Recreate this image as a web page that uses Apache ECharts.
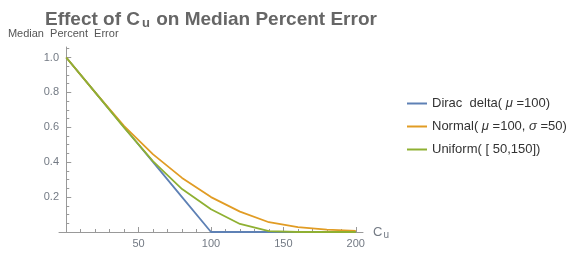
<!DOCTYPE html>
<html>
<head>
<meta charset="utf-8">
<script src="https://cdn.jsdelivr.net/npm/echarts@6/dist/echarts.min.js"></script>
<style>
  html, body { margin: 0; padding: 0; background: #fff; }
  #chart { width: 577px; height: 254px; }
</style>
</head>
<body>
<div id="chart"></div>
<script>
// data
const cuValues = [0, 20, 40, 60, 80, 100, 120, 140, 160, 180, 200]
const diracDelta = [1, 0.8, 0.6, 0.4, 0.2, 0, 0, 0, 0, 0, 0]
const normalDist = [1, 0.8, 0.607, 0.445, 0.31, 0.2, 0.117, 0.056, 0.028, 0.014, 0.006]
const uniformDist = [1, 0.8, 0.598, 0.405, 0.246, 0.13, 0.046, 0.005, 0, 0, 0]

const xLabels = [50, 100, 150, 200]
const xMinor = [10, 20, 30, 40, 60, 70, 80, 90, 110, 120, 130, 140, 160, 170, 180, 190]
const yLabels = [0.2, 0.4, 0.6, 0.8, 1.0]
const yMinor = [0.05, 0.1, 0.15, 0.25, 0.3, 0.35, 0.45, 0.5, 0.55, 0.65, 0.7, 0.75, 0.85, 0.9, 0.95, 1.05]

const seriesNames = ['Dirac delta', 'Normal', 'Uniform']
const colors = ['#5e81b5', '#e19c24', '#8fb032']

const pairs = ys => cuValues.map((x, i) => [x, ys[i]])

const chart = echarts.init(document.getElementById('chart'))

const axisGray = '#999'
const labelGray = '#737a84'

const option = {
  animation: false,
  title: {
    text: 'Effect of C{sub|u} on Median Percent Error',
    left: 40,
    top: 4,
    textStyle: {
      fontFamily: 'Liberation Sans',
      fontSize: 19,
      fontWeight: 'bold',
      color: '#666',
      rich: {
        sub: { fontFamily: 'Liberation Sans', fontSize: 13, fontWeight: 'bold', color: '#666', padding: [8, 1, 0, 2] }
      }
    }
  },
  legend: {
    orient: 'vertical',
    left: 402,
    top: 92,
    icon: 'rect',
    itemWidth: 20,
    itemHeight: 2,
    itemGap: 10,
    data: seriesNames,
    formatter: function (name) {
      if (name === 'Dirac delta') return 'Dirac  delta( {i|μ} =100)'
      if (name === 'Normal') return 'Normal( {i|μ} =100, {i|σ} =50)'
      return 'Uniform( [ 50,150])'
    },
    textStyle: {
      fontFamily: 'Liberation Sans',
      fontSize: 13,
      color: '#333',
      rich: {
        i: { fontFamily: 'Liberation Sans', fontSize: 13, fontStyle: 'italic', color: '#333' }
      }
    }
  },
  grid: {
    left: 59,
    right: 214,
    top: 47,
    bottom: 22
  },
  xAxis: [{
    type: 'value',
    min: -5,
    max: 205,
    name: 'C{sub|u}',
    nameLocation: 'end',
    nameGap: 10,
    nameTextStyle: {
      fontFamily: 'Liberation Sans',
      fontSize: 13,
      color: labelGray,
      rich: {
        sub: { fontFamily: 'Liberation Sans', fontSize: 10, color: labelGray, padding: [7, 0, 0, 1] }
      }
    },
    splitLine: { show: false },
    axisLine: { lineStyle: { color: axisGray, width: 1 } },
    axisTick: { inside: true, length: 5, customValues: xLabels, lineStyle: { color: axisGray } },
    axisLabel: {
      customValues: xLabels,
      margin: 6,
      fontFamily: 'Liberation Sans',
      fontSize: 11,
      color: labelGray
    }
  }, {
    type: 'value',
    min: -5,
    max: 205,
    position: 'bottom',
    splitLine: { show: false },
    axisLine: { show: false },
    axisTick: { inside: true, length: 3, customValues: xMinor, lineStyle: { color: axisGray } },
    axisLabel: { show: false }
  }],
  yAxis: [{
    type: 'value',
    min: 0,
    max: 1.06,
    name: 'Median  Percent  Error',
    nameLocation: 'end',
    nameGap: 8,
    nameTextStyle: {
      fontFamily: 'Liberation Sans',
      fontSize: 11,
      color: '#555',
      padding: [0, 6, 0, 0]
    },
    splitLine: { show: false },
    axisLine: { onZero: true, lineStyle: { color: axisGray, width: 1 } },
    axisTick: { inside: true, length: 5, customValues: yLabels, lineStyle: { color: axisGray } },
    axisLabel: {
      customValues: yLabels,
      formatter: v => v.toFixed(1),
      margin: 0,
      fontFamily: 'Liberation Sans',
      fontSize: 11,
      color: labelGray
    }
  }, {
    type: 'value',
    min: 0,
    max: 1.06,
    position: 'left',
    splitLine: { show: false },
    axisLine: { onZero: true, lineStyle: { color: 'rgba(0,0,0,0)' } },
    axisTick: { inside: true, length: 3, customValues: yMinor, lineStyle: { color: axisGray } },
    axisLabel: { show: false }
  }],
  series: [diracDelta, normalDist, uniformDist].map((ys, i) => ({
    name: seriesNames[i],
    type: 'line',
    data: pairs(ys),
    symbol: 'none',
    color: colors[i],
    lineStyle: { color: colors[i], width: 1.8 }
  }))
}

chart.setOption(option)
</script>
</body>
</html>
